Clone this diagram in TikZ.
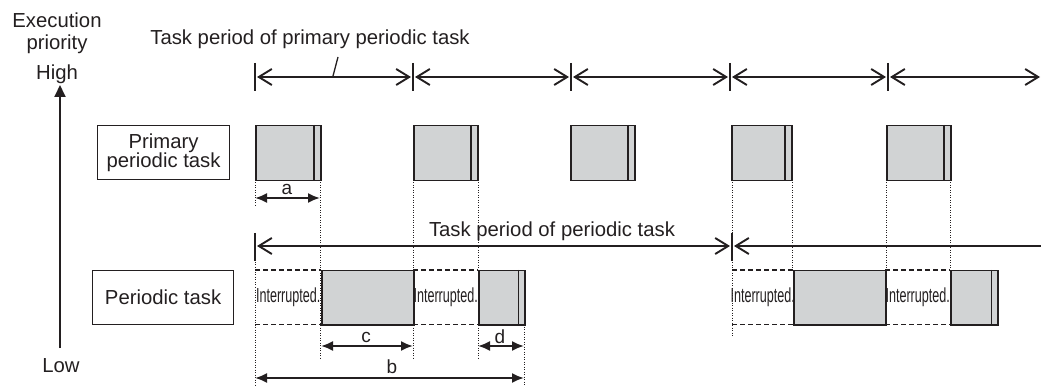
\documentclass[tikz,border=0pt]{standalone}
\usepackage{fontspec}
\setmainfont{Liberation Sans}
\usetikzlibrary{arrows.meta}
\definecolor{ink}{HTML}{231F20}
\definecolor{boxgray}{HTML}{D1D3D4}
\begin{document}
\begin{tikzpicture}[x=1pt,y=-1pt,
  font=\fontsize{20.3}{19}\selectfont,
  every node/.style={text=ink},
  period/.style={draw=ink, line width=1.9pt},
  barbs/.style={{Straight Barb[length=13pt,width=16pt,line width=1.9pt]}-{Straight Barb[length=13pt,width=16pt,line width=1.9pt]}},
  lbarb/.style={{Straight Barb[length=13pt,width=16pt,line width=1.9pt]}-},
  tickmark/.style={draw=ink, line width=1.6pt},
  task/.style={draw=ink, fill=boxgray, line width=1.5pt, inner sep=0pt, anchor=north west, minimum height=55pt},
  ptask/.style={draw=ink, fill=boxgray, line width=1.5pt, inner sep=0pt, anchor=north west, minimum height=54pt},
  intr/.style={inner sep=0pt, anchor=north west, minimum height=54pt},
  dashline/.style={draw=ink, line width=1.1pt, dash pattern=on 5pt off 3pt},
  guide/.style={draw=ink, line width=0.8pt, dash pattern=on 1pt off 1.5pt},
  dim/.style={draw=ink, line width=1.9pt, {Latex[length=12pt,width=10pt]}-{Latex[length=12pt,width=10pt]}},
  labelbox/.style={draw=ink, line width=1.2pt, inner sep=0pt, anchor=north west, align=center},
  intext/.style={inner sep=0pt},
  dimlabel/.style={anchor=base, font=\fontsize{19}{19}\selectfont}
]
\useasboundingbox (0,0) rectangle (1041,387);

% priority axis
\node[anchor=base, align=center] (exec) at (57,28) {Execution};
\node[anchor=base] (prio) at (57,50) {priority};
\node[anchor=base] (high) at (57,80) {High};
\node[anchor=base] (low) at (61,372) {Low};
\coordinate (axb) at (60,348);
\coordinate (axt) at (60,85);
\draw[draw=ink, line width=1.9pt, -{Triangle[length=12pt,width=11pt]}] (axb) -- (axt);

% label boxes
\node[labelbox, minimum width=132pt, minimum height=54pt] (lprim) at (97,125) {};
\node[align=center, font=\fontsize{20.3}{19}\selectfont] (lprimt) at (lprim.center) {Primary\\periodic task};
\node[labelbox, minimum width=141pt, minimum height=54pt] (lper) at (92,270) {};
\node (lpert) at (lper.center) {Periodic task};

% primary period arrows
\node[anchor=base] (ttop) at (310,45) {Task period of primary periodic task};
\foreach \n/\x in {0/255,1/413,2/571,3/730,4/888}{
  \coordinate (tt\n) at (\x,63);
  \coordinate (tb\n) at (\x,91);
  \coordinate (ta\n) at (\x,77);
  \draw[tickmark] (tt\n) -- (tb\n);
}
\coordinate (tend) at (1040,77);
\draw[period, barbs] ([xshift=2pt]ta0) -- ([xshift=-2pt]ta1);
\draw[period, barbs] ([xshift=2pt]ta1) -- ([xshift=-2pt]ta2);
\draw[period, barbs] ([xshift=2pt]ta2) -- ([xshift=-2pt]ta3);
\draw[period, barbs] ([xshift=2pt]ta3) -- ([xshift=-2pt]ta4);
\draw[period, barbs] ([xshift=2pt]ta4) -- (tend);
\coordinate (lead1) at (333,76);
\coordinate (lead2) at (338,57);
\draw[draw=ink, line width=1.3pt] (lead1) -- (lead2);

% dotted guide lines
\coordinate (g0a) at (255,180); \coordinate (g0b) at (255,207);
\coordinate (g0c) at (255,262); \coordinate (g0d) at (255,385);
\draw[guide] (g0a) -- (g0b);
\draw[guide] (g0c) -- (g0d);
\draw[guide] (320,180) -- (320,358);
\draw[guide] (413,180) -- (413,358);
\draw[guide] (478,180) -- (478,358);
\draw[guide] (524,324) -- (524,385);
\draw[guide] (732,180) -- (732,337);
\draw[guide] (792,180) -- (792,270);
\draw[guide] (886,180) -- (886,270);
\draw[guide] (950,180) -- (950,270);

% primary periodic task boxes
\foreach \n/\x/\w in {1/255/65,2/413/64,3/570/64,4/731/60,5/886/64}{
  \node[task, minimum width=\w pt] (p\n) at (\x,125) {};
  \draw[draw=ink, line width=1.2pt] ([xshift=-7.5pt]p\n.north east) -- ([xshift=-7.5pt]p\n.south east);
}

% periodic task period arrow
\node[anchor=base] (tper) at (552,237) {Task period of periodic task};
\coordinate (pt0) at (255,233); \coordinate (pb0) at (255,261); \coordinate (pa0) at (255,246);
\coordinate (pt1) at (732,233); \coordinate (pb1) at (732,261); \coordinate (pa1) at (732,246);
\coordinate (pend) at (1041,246);
\draw[tickmark] (pt0) -- (pb0);
\draw[tickmark] (pt1) -- (pb1);
\draw[period, barbs] ([xshift=2pt]pa0) -- ([xshift=-2pt]pa1);
\draw[period, lbarb] ([xshift=2pt]pa1) -- (pend);

% periodic task row
\foreach \n/\x/\w in {1/255/66,2/413/65,3/732/61,4/885/65}{
  \node[intr, minimum width=\w pt] (i\n) at (\x,270) {};
  \draw[dashline] (i\n.north west) -- (i\n.north east);
  \draw[dashline] (i\n.south west) -- (i\n.south east);
  \node[intext] (it\n) at (i\n.center) {\scalebox{0.62}[1]{Interrupted.}};
}
\node[ptask, minimum width=92pt] (g1) at (321,270) {};
\node[ptask, minimum width=46pt] (g2) at (478,270) {};
\draw[draw=ink, line width=1.2pt] ([xshift=-7pt]g2.north east) -- ([xshift=-7pt]g2.south east);
\node[ptask, minimum width=92pt] (g3) at (793,270) {};
\node[ptask, minimum width=47pt] (g4) at (950,270) {};
\draw[draw=ink, line width=1.2pt] ([xshift=-7pt]g4.north east) -- ([xshift=-7pt]g4.south east);

% dimensions
\coordinate (a1) at (255,198); \coordinate (a2) at (320,198);
\draw[dim] (a1) -- (a2);
\node[dimlabel] (la) at (287,195) {a};
\coordinate (c1) at (321,346); \coordinate (c2) at (413,346);
\draw[dim] (c1) -- (c2);
\node[dimlabel] (lc) at (366,342) {c};
\coordinate (d1) at (478,346); \coordinate (d2) at (524,346);
\draw[dim] (d1) -- (d2);
\node[dimlabel] (ld) at (500,343) {d};
\coordinate (b1) at (255,378); \coordinate (b2) at (524,378);
\draw[dim] (b1) -- (b2);
\node[dimlabel] (lb) at (392,373) {b};
\end{tikzpicture}
\end{document}
